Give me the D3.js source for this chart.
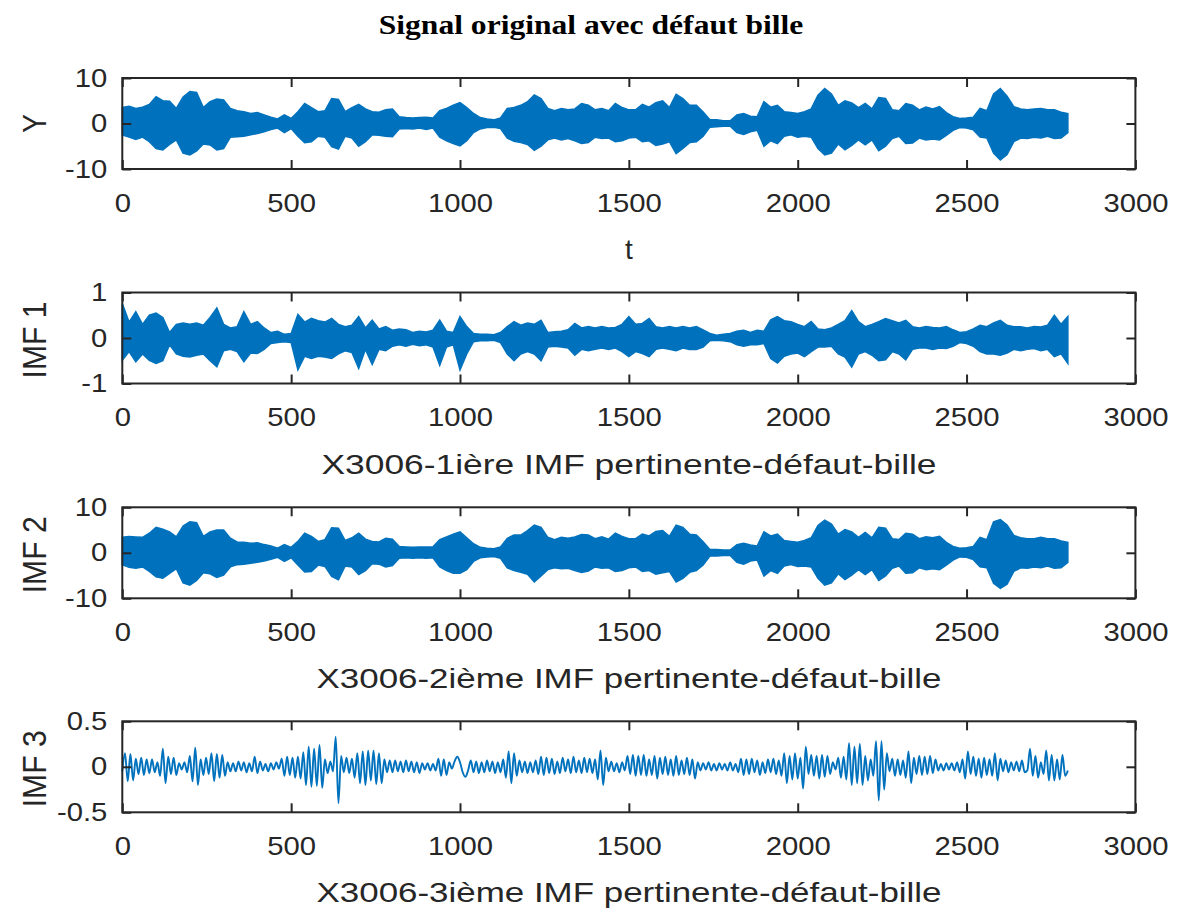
<!DOCTYPE html>
<html>
<head>
<meta charset="utf-8">
<script src="https://cdn.jsdelivr.net/npm/d3@7"></script>
<style>
  body { margin: 0; background: #fff; }
  svg { display: block; }
</style>
</head>
<body>
<svg id="chart" width="1180" height="912"></svg>
<script>
// ---- data ----
// dense signals: max / min per bin of 20 samples, t = 0..2800
const BIN = 20;

const yUpper = [3.5,3.8,3.3,3.6,4.2,5.9,5.0,4.9,3.3,5.8,7.0,6.8,3.5,4.8,5.4,5.2,3.3,2.8,2.6,2.2,2.4,1.9,1.4,1.0,1.9,1.1,2.6,4.4,3.5,2.6,2.8,5.5,5.3,2.6,3.5,4.2,3.2,2.6,2.5,3.0,3.2,1.5,1.3,1.2,1.3,1.4,1.2,2.8,3.3,4.0,4.6,3.5,2.2,1.3,1.0,0.8,1.2,3.3,3.5,4.0,4.8,6.3,5.5,3.3,2.8,3.3,3.0,3.2,4.4,4.0,3.0,3.3,2.8,4.4,3.5,3.0,
  3.0,4.2,3.6,4.6,5.0,3.5,6.4,5.5,4.0,4.0,2.5,0.8,0.8,0.6,0.6,1.9,2.2,1.6,1.5,4.8,3.6,4.0,2.6,2.4,2.2,2.6,3.2,6.2,7.7,6.5,4.0,5.0,4.5,3.5,4.4,3.2,5.7,5.5,3.0,2.8,4.4,4.0,3.0,3.6,3.2,3.7,2.4,1.5,1.1,1.2,1.4,3.3,2.8,6.5,7.7,6.0,3.7,3.2,3.0,3.2,3.3,3.0,3.0,2.5,2.2];
const yLower = [-2.5,-3.0,-3.5,-3.0,-4.0,-5.5,-5.8,-4.6,-3.6,-6.5,-6.9,-6.0,-4.5,-4.7,-5.8,-5.5,-3.0,-2.9,-2.8,-2.5,-2.2,-1.8,-1.3,-1.0,-2.0,-1.1,-2.8,-4.2,-4.0,-2.8,-3.0,-5.1,-5.6,-2.8,-3.2,-5.0,-4.0,-2.5,-2.6,-2.8,-2.9,-1.2,-1.1,-1.2,-1.0,-1.3,-1.0,-3.0,-3.8,-4.4,-4.9,-3.8,-2.0,-1.2,-0.9,-0.8,-1.1,-3.2,-3.9,-4.2,-4.6,-5.9,-5.0,-3.6,-3.2,-3.6,-3.3,-3.8,-4.4,-4.2,-3.0,-3.3,-3.2,-4.0,-3.8,-3.2,
  -3.0,-4.0,-3.8,-4.8,-4.5,-4.0,-6.6,-5.5,-4.2,-4.0,-2.8,-0.8,-0.7,-0.6,-0.6,-2.0,-2.4,-1.8,-1.5,-5.0,-3.8,-4.4,-2.8,-2.5,-3.0,-2.8,-3.0,-5.5,-6.9,-6.5,-4.5,-5.8,-4.8,-3.6,-4.7,-3.6,-6.0,-5.0,-3.3,-2.8,-4.4,-4.3,-3.2,-3.6,-3.4,-3.6,-2.6,-1.5,-0.9,-1.0,-1.4,-3.0,-3.2,-6.5,-8.0,-6.8,-4.0,-3.2,-3.3,-3.0,-3.2,-2.8,-3.3,-3.2,-2.0];

const imf1Upper = [0.76,0.35,0.58,0.30,0.50,0.55,0.45,0.12,0.30,0.33,0.30,0.33,0.28,0.45,0.66,0.30,0.22,0.25,0.58,0.30,0.36,0.22,0.12,0.15,0.08,0.10,0.52,0.35,0.43,0.38,0.35,0.43,0.30,0.25,0.28,0.47,0.22,0.39,0.20,0.25,0.17,0.20,0.18,0.12,0.15,0.13,0.17,0.39,0.15,0.12,0.47,0.25,0.10,0.08,0.08,0.07,0.12,0.25,0.36,0.28,0.33,0.30,0.39,0.12,0.14,0.15,0.18,0.32,0.22,0.25,0.22,0.25,0.22,0.23,0.30,0.47,
  0.30,0.32,0.43,0.25,0.22,0.25,0.22,0.25,0.22,0.25,0.18,0.10,0.06,0.08,0.10,0.15,0.17,0.12,0.17,0.15,0.40,0.47,0.38,0.36,0.30,0.25,0.36,0.20,0.18,0.22,0.30,0.38,0.60,0.36,0.25,0.30,0.36,0.43,0.38,0.33,0.39,0.25,0.22,0.25,0.23,0.22,0.25,0.18,0.12,0.14,0.20,0.28,0.25,0.33,0.39,0.28,0.25,0.25,0.22,0.25,0.24,0.28,0.50,0.30,0.47];
const imf1Lower = [-0.49,-0.30,-0.52,-0.35,-0.49,-0.56,-0.50,-0.15,-0.35,-0.40,-0.42,-0.38,-0.35,-0.50,-0.63,-0.28,-0.25,-0.30,-0.52,-0.33,-0.34,-0.25,-0.12,-0.10,-0.08,-0.10,-0.70,-0.40,-0.45,-0.40,-0.42,-0.45,-0.35,-0.28,-0.32,-0.67,-0.25,-0.58,-0.25,-0.28,-0.18,-0.15,-0.18,-0.14,-0.17,-0.15,-0.20,-0.60,-0.20,-0.15,-0.70,-0.35,-0.08,-0.06,-0.06,-0.05,-0.10,-0.35,-0.50,-0.35,-0.30,-0.35,-0.50,-0.20,-0.18,-0.20,-0.22,-0.38,-0.25,-0.28,-0.25,-0.22,-0.25,-0.22,-0.30,-0.41,
  -0.30,-0.34,-0.41,-0.25,-0.22,-0.25,-0.28,-0.22,-0.25,-0.25,-0.20,-0.06,-0.05,-0.06,-0.08,-0.15,-0.18,-0.15,-0.15,-0.12,-0.45,-0.55,-0.40,-0.35,-0.33,-0.41,-0.30,-0.20,-0.20,-0.18,-0.35,-0.42,-0.64,-0.35,-0.30,-0.38,-0.50,-0.48,-0.30,-0.35,-0.48,-0.25,-0.22,-0.22,-0.25,-0.22,-0.23,-0.18,-0.10,-0.12,-0.18,-0.30,-0.35,-0.35,-0.38,-0.33,-0.25,-0.28,-0.25,-0.23,-0.28,-0.25,-0.41,-0.35,-0.56];

const imf2Upper = [3.4,3.6,3.5,3.4,4.3,5.6,5.2,4.6,3.5,5.9,6.8,6.6,3.6,4.6,5.0,5.0,3.2,2.4,2.3,2.1,2.2,1.8,1.5,1.0,1.8,1.2,2.5,4.3,3.6,2.5,2.9,5.5,5.4,2.7,3.3,4.3,3.0,2.5,2.4,3.2,3.0,1.4,1.3,1.2,1.3,1.3,1.3,2.9,3.5,4.1,4.6,3.3,2.0,1.2,1.0,0.9,1.3,3.2,3.9,3.9,4.9,6.1,5.6,3.4,2.9,3.4,3.2,3.5,4.0,3.9,3.1,3.5,3.0,4.3,3.6,3.1,
  3.1,4.1,3.7,4.7,4.9,3.6,6.1,5.6,4.1,3.9,2.4,0.7,0.7,0.6,0.6,1.8,2.1,1.7,1.5,4.6,3.7,4.1,2.7,2.5,2.3,2.7,3.3,6.0,7.2,6.3,4.1,5.1,4.6,3.4,4.5,3.3,5.6,5.4,3.1,2.9,4.3,4.1,3.1,3.5,3.3,3.6,2.3,1.4,1.0,1.1,1.4,3.4,2.9,6.8,7.3,6.1,3.8,3.3,3.1,3.1,3.4,3.1,3.1,2.6,2.3];
const imf2Lower = [-2.6,-3.2,-3.4,-3.1,-4.1,-5.3,-5.6,-4.5,-3.5,-6.6,-7.1,-6.1,-4.4,-4.6,-5.4,-4.9,-3.1,-2.6,-2.5,-2.3,-2.1,-1.8,-1.4,-1.0,-1.9,-1.1,-2.7,-4.2,-4.1,-2.7,-3.0,-5.2,-5.9,-2.9,-3.1,-4.8,-3.9,-2.4,-2.5,-3.1,-2.8,-1.2,-1.1,-1.2,-1.1,-1.2,-1.1,-3.1,-3.9,-4.5,-4.5,-3.7,-1.9,-1.1,-0.9,-0.8,-1.2,-3.3,-3.9,-4.3,-4.7,-6.4,-5.1,-3.7,-3.3,-3.5,-3.4,-3.9,-4.3,-4.0,-3.1,-3.4,-3.3,-4.1,-3.9,-3.3,
  -3.1,-4.1,-3.9,-4.7,-4.4,-4.1,-6.4,-5.6,-4.3,-3.9,-2.7,-0.7,-0.7,-0.6,-0.6,-2.1,-2.5,-1.8,-1.6,-5.1,-3.9,-4.5,-2.9,-2.6,-3.0,-2.9,-3.1,-5.6,-7.1,-6.6,-4.6,-5.9,-4.9,-3.7,-4.8,-3.7,-6.1,-5.1,-3.4,-2.9,-4.5,-4.4,-3.3,-3.7,-3.5,-3.7,-2.7,-1.6,-0.9,-1.0,-1.5,-3.1,-3.3,-6.7,-7.8,-6.9,-4.1,-3.3,-3.4,-3.1,-3.3,-2.9,-3.4,-3.3,-2.1];

// IMF 3: successive extrema, one every 8 samples
const STEP3 = 8;
const imf3 = [-0.05,0.15,-0.16,0.14,-0.15,0.09,-0.08,0.10,-0.09,0.08,
  -0.07,0.08,-0.06,0.05,-0.10,0.20,-0.18,0.11,-0.08,0.10,
  -0.09,0.04,-0.03,0.05,-0.06,0.12,-0.16,0.21,-0.20,0.08,
  -0.09,0.10,-0.08,0.15,-0.16,0.14,-0.12,0.13,-0.10,0.05,
  -0.05,0.04,-0.05,0.06,-0.04,0.05,-0.06,0.04,-0.05,0.11,
  -0.07,0.06,-0.04,0.03,-0.05,0.04,-0.03,0.05,-0.02,0.09,
  -0.10,0.11,-0.09,0.10,-0.12,0.11,-0.13,0.16,-0.20,0.22,
  -0.22,0.20,-0.21,0.24,-0.23,0.08,-0.07,0.06,-0.05,0.33,
  -0.40,0.12,-0.06,0.10,-0.07,0.09,-0.12,0.15,-0.18,0.17,
  -0.20,0.18,-0.15,0.18,-0.19,0.15,-0.18,0.08,-0.06,0.07,
  -0.06,0.07,-0.05,0.06,-0.06,0.07,-0.05,0.06,-0.06,0.05,
  -0.07,0.04,-0.03,0.04,-0.04,0.03,-0.04,0.09,-0.10,0.08,
  -0.09,0.05,-0.02,0.06,0.11,0.05,-0.06,-0.11,-0.04,0.07,
  -0.06,0.06,-0.07,0.05,-0.06,0.07,-0.05,0.06,-0.07,0.05,
  -0.06,0.08,-0.12,0.17,-0.18,0.15,-0.10,0.07,-0.06,0.06,
  -0.07,0.05,-0.06,0.07,-0.08,0.11,-0.09,0.10,-0.07,0.09,
  -0.08,0.06,-0.07,0.10,-0.05,0.08,-0.07,0.11,-0.06,0.07,
  -0.07,0.10,-0.06,0.09,-0.07,0.08,-0.14,0.18,-0.20,0.10,
  -0.05,0.06,-0.05,0.04,-0.06,0.05,-0.04,0.12,-0.08,0.13,
  -0.10,0.12,-0.09,0.13,-0.10,0.08,-0.09,0.12,-0.13,0.10,
  -0.08,0.11,-0.09,0.08,-0.10,0.12,-0.09,0.07,-0.08,0.10,
  -0.09,0.08,-0.13,0.05,-0.04,0.04,-0.03,0.05,-0.04,0.03,
  -0.04,0.04,-0.03,0.03,-0.04,0.05,-0.04,0.03,-0.06,0.09,
  -0.09,0.08,-0.08,0.09,-0.06,0.07,-0.09,0.05,-0.07,0.08,
  -0.06,0.09,-0.08,0.07,-0.10,0.15,-0.18,0.12,-0.14,0.15,
  -0.13,0.10,-0.24,0.22,-0.08,0.13,-0.10,0.12,-0.13,0.13,
  -0.11,0.12,-0.08,0.05,-0.03,0.10,-0.12,0.11,-0.14,0.26,
  -0.20,0.22,-0.18,0.25,-0.20,0.12,-0.15,0.08,-0.10,0.28,
  -0.37,0.28,-0.25,0.15,-0.05,0.09,-0.10,0.08,-0.09,0.07,
  -0.12,0.17,-0.18,0.10,-0.08,0.12,-0.09,0.11,-0.08,0.12,
  -0.07,0.08,-0.04,0.03,-0.04,0.04,-0.03,0.04,-0.04,0.05,
  -0.06,0.08,-0.13,0.17,-0.08,0.11,-0.10,0.09,-0.12,0.10,
  -0.09,0.08,-0.10,0.15,-0.15,0.09,-0.05,0.07,-0.06,0.05,
  -0.04,0.06,-0.05,0.07,-0.06,-0.04,0.20,-0.10,0.12,-0.12,
  0.05,-0.08,0.18,-0.15,0.13,-0.15,0.08,-0.14,0.13,-0.10,-0.04];

const xTicks = [0, 500, 1000, 1500, 2000, 2500, 3000];
const titleText = "Signal original avec défaut bille";

const panels = [
  { ylabel: "Y",     xlabel: "t", domain: [-10, 10], ticks: [-10, 0, 10], upper: yUpper, lower: yLower },
  { ylabel: "IMF 1", xlabel: "X3006-1ière IMF pertinente-défaut-bille", labelW: 615, domain: [-1, 1], ticks: [-1, 0, 1], upper: imf1Upper, lower: imf1Lower },
  { ylabel: "IMF 2", xlabel: "X3006-2ième IMF pertinente-défaut-bille", labelW: 625, domain: [-10, 10], ticks: [-10, 0, 10], upper: imf2Upper, lower: imf2Lower },
  { ylabel: "IMF 3", xlabel: "X3006-3ième IMF pertinente-défaut-bille", labelW: 625, domain: [-0.5, 0.5], ticks: [-0.5, 0, 0.5], line: imf3 }
];

// ---- layout ----
const left = 122.3, right = 1135.4, plotH = 91;
const tops = [78, 292.5, 507.3, 721.3];
const axisColor = "#262626";
const lineColor = "#0072BD";
const sans = "'Liberation Sans', Arial, Helvetica, sans-serif";
const SX = 1.17; // text in the figure is a little wide

const svg = d3.select("#chart");

svg.append("text")
  .attr("transform", `translate(591,34) scale(${SX},1)`)
  .attr("text-anchor", "middle")
  .attr("font-family", "'Liberation Serif', 'Times New Roman', serif")
  .attr("font-weight", "bold")
  .attr("font-size", 27)
  .attr("fill", "#000")
  .text(titleText);

const x = d3.scaleLinear().domain([0, 3000]).range([left, right]);

panels.forEach((p, k) => {
  const top = tops[k], bottom = top + plotH;
  const y = d3.scaleLinear().domain(p.domain).range([bottom, top]);
  const g = svg.append("g");

  // signal
  if (p.line) {
    const line = d3.line()
      .x((d, i) => x(i * STEP3))
      .y(d => y(d))
      .curve(d3.curveMonotoneX);
    g.append("path")
      .attr("d", line(p.line))
      .attr("fill", "none")
      .attr("stroke", lineColor)
      .attr("stroke-width", 1.9);
  } else {
    // band between the max and min of every bin
    const area = d3.area()
      .x((d, i) => x(i * BIN))
      .y0((d, i) => y(p.lower[i]))
      .y1((d, i) => y(p.upper[i]));
    g.append("path")
      .attr("d", area(p.upper))
      .attr("fill", lineColor)
      .attr("stroke", lineColor)
      .attr("stroke-width", 1.5)
      .attr("stroke-linejoin", "miter");
  }

  // axes, ticks inward on all four sides
  const fmt = d => String(d);
  const styleAxis = (sel, showLabels) => {
    sel.select(".domain").remove();
    sel.selectAll(".tick line").attr("stroke", axisColor).attr("stroke-width", 2);
    sel.selectAll(".tick text").each(function () {
      const t = d3.select(this);
      if (!showLabels) { t.remove(); return; }
      const x0 = +t.attr("x") || 0;
      t.attr("x", 0)
        .attr("transform", `translate(${x0},0) scale(${SX},1)`)
        .attr("fill", axisColor)
        .attr("font-family", sans)
        .attr("font-size", 25);
    });
  };

  g.append("g").attr("transform", `translate(0,${bottom})`)
    .call(d3.axisBottom(x).tickValues(xTicks).tickFormat(fmt).tickSizeInner(-9).tickSizeOuter(0).tickPadding(25))
    .call(s => styleAxis(s, true));
  g.append("g").attr("transform", `translate(0,${top})`)
    .call(d3.axisTop(x).tickValues(xTicks).tickSizeInner(-9).tickSizeOuter(0))
    .call(s => styleAxis(s, false));
  g.append("g").attr("transform", `translate(${left},0)`)
    .call(d3.axisLeft(y).tickValues(p.ticks).tickFormat(fmt).tickSizeInner(-9).tickSizeOuter(0).tickPadding(15))
    .call(s => styleAxis(s, true));
  g.append("g").attr("transform", `translate(${right},0)`)
    .call(d3.axisRight(y).tickValues(p.ticks).tickSizeInner(-9).tickSizeOuter(0))
    .call(s => styleAxis(s, false));

  g.append("rect")
    .attr("x", left).attr("y", top)
    .attr("width", right - left).attr("height", plotH)
    .attr("fill", "none")
    .attr("stroke", axisColor)
    .attr("stroke-width", 2);

  // axis labels
  const xl = g.append("text")
    .attr("x", 629).attr("y", bottom + 90)
    .attr("text-anchor", "middle")
    .attr("font-family", sans).attr("font-size", 28)
    .attr("fill", axisColor)
    .text(p.xlabel);
  if (p.labelW) xl.attr("textLength", p.labelW).attr("lengthAdjust", "spacingAndGlyphs");

  const yl = g.append("text")
    .attr("transform", `translate(46,${(top + bottom) / 2 + (k ? 2 : 0)}) scale(${SX},1) rotate(-90)`)
    .attr("text-anchor", "middle")
    .attr("font-family", sans).attr("font-size", 28)
    .attr("fill", axisColor)
    .text(p.ylabel);
  if (k) yl.attr("textLength", 77).attr("lengthAdjust", "spacingAndGlyphs");
});
</script>
</body>
</html>
